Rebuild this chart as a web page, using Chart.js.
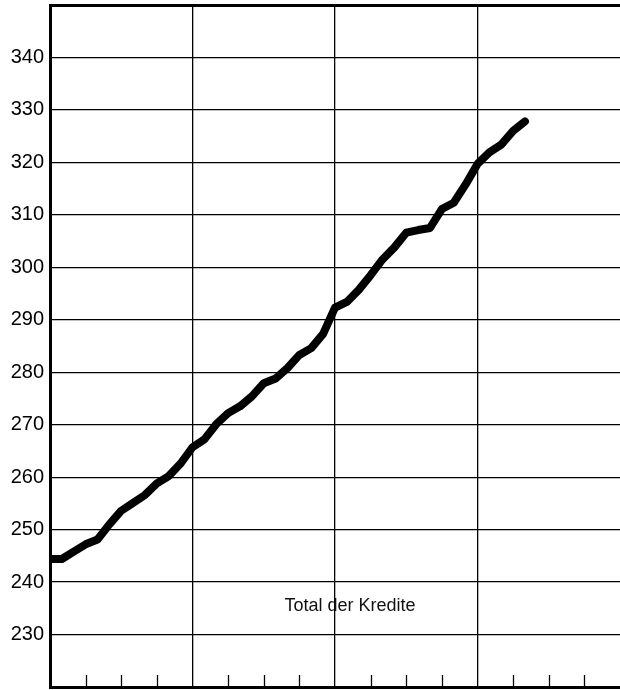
<!DOCTYPE html>
<html>
<head>
<meta charset="utf-8">
<script src="https://cdn.jsdelivr.net/npm/chart.js@4/dist/chart.umd.min.js"></script>
<style>
  html, body { margin: 0; padding: 0; background: #fff; overflow: hidden; }
  #grafico { display: block; }
</style>
</head>
<body>
<canvas id="grafico" width="620" height="690"></canvas>
<script>
const monate = [
  0, 1, 2, 3, 4, 5, 6, 7, 8, 9, 10, 11, 12, 13, 14, 15, 16, 17, 18, 19, 20,
  21, 22, 23, 24, 25, 26, 27, 28, 29, 30, 31, 32, 33, 34, 35, 36, 37, 38, 39, 40,
];

const kredite = [
  244.4, 244.4, 245.8, 247.2, 248.1, 251.0, 253.6, 255.1, 256.6, 258.8, 260.2,
  262.6, 265.7, 267.2, 270.1, 272.2, 273.5, 275.4, 277.9, 278.8, 280.8,
  283.3, 284.6, 287.3, 292.3, 293.4, 295.7, 298.5, 301.5, 303.8, 306.6,
  307.1, 307.5, 311.1, 312.3, 315.8, 319.7, 321.9, 323.4, 326.0, 327.8,
];

const yTicks = [230, 240, 250, 260, 270, 280, 290, 300, 310, 320, 330, 340];

const beschriftung = "Total der Kredite";

const schrift = "'Liberation Sans', Arial, Helvetica, sans-serif";

// kleine Striche am unteren Rand (Quartale)
const quartalStriche = {
  id: "quartalStriche",
  afterDraw(chart) {
    const ctx = chart.ctx;
    const x = chart.scales.x;
    const unten = chart.chartArea.bottom;
    ctx.save();
    ctx.strokeStyle = "#000";
    ctx.lineWidth = 1.3;
    x.ticks.forEach((t) => {
      if (t.value % 12 === 0) return;
      const px = Math.round(x.getPixelForValue(t.value)) + 0.5;
      ctx.beginPath();
      ctx.moveTo(px, unten);
      ctx.lineTo(px, unten - 12);
      ctx.stroke();
    });
    ctx.restore();
  },
};

const textPlugin = {
  id: "textPlugin",
  afterDraw(chart) {
    const ctx = chart.ctx;
    const px = chart.scales.x.getPixelForValue(19.75);
    const py = chart.scales.y.getPixelForValue(235.5);
    ctx.save();
    ctx.fillStyle = "#111";
    ctx.font = "18px " + schrift;
    ctx.textBaseline = "middle";
    ctx.textAlign = "left";
    ctx.fillText(beschriftung, px, py);
    ctx.restore();
  },
};

new Chart(document.getElementById("grafico"), {
  type: "line",
  data: {
    datasets: [
      {
        data: monate.map((m, i) => ({ x: m, y: kredite[i] })),
        borderColor: "#000",
        borderWidth: 8,
        borderCapStyle: "round",
        borderJoinStyle: "round",
        pointRadius: 0,
        tension: 0,
        fill: false,
      },
    ],
  },
  options: {
    responsive: false,
    animation: false,
    layout: {
      padding: { top: 5, right: 0, left: 0, bottom: 0 },
    },
    plugins: {
      legend: { display: false },
      tooltip: { enabled: false },
    },
    scales: {
      x: {
        type: "linear",
        min: 0,
        max: 48,
        ticks: { stepSize: 3, display: false },
        grid: {
          drawTicks: false,
          color: (c) =>
            c.tick && c.tick.value % 12 === 0 && c.tick.value < 48 ? "#000" : "rgba(0,0,0,0)",
          lineWidth: 1.3,
        },
        border: { display: true, color: "#000", width: 3 },
        afterFit(scale) {
          scale.height = 3;
          scale.paddingLeft = 0;
          scale.paddingRight = 0;
        },
      },
      y: {
        min: 220,
        max: 350,
        afterBuildTicks(scale) {
          scale.ticks = [220, ...yTicks, 350].map((v) => ({ value: v }));
        },
        ticks: {
          color: "#000",
          padding: 6,
          font: { family: schrift, size: 20 },
          callback: (v) => (yTicks.includes(v) ? String(v) : ""),
        },
        grid: {
          drawTicks: false,
          color: "#000",
          lineWidth: (c) => (c.tick && c.tick.value === 350 ? 3 : 1.3),
        },
        border: { display: true, color: "#000", width: 3 },
        afterFit(scale) {
          scale.width = 50;
          scale.paddingTop = 0;
          scale.paddingBottom = 0;
        },
      },
    },
  },
  plugins: [quartalStriche, textPlugin],
});
</script>
</body>
</html>
